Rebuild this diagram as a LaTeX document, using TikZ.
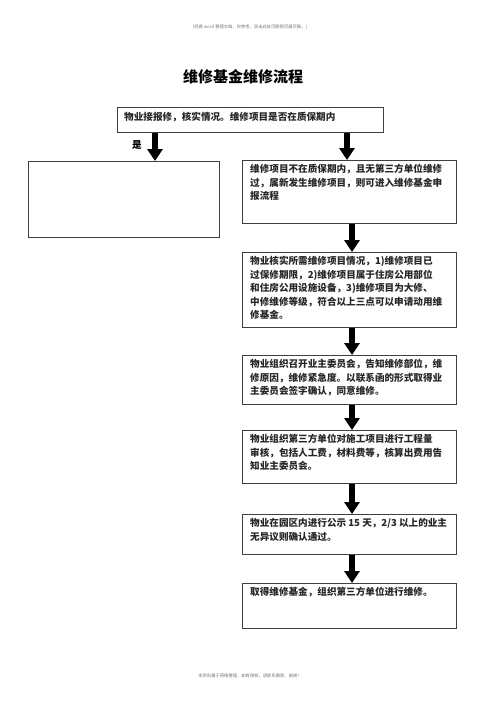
\documentclass[tikz,border=0pt]{standalone}
\usepackage{fontspec}
\setmainfont{Noto Sans CJK SC}
\usetikzlibrary{arrows.meta}
\tikzset{
  box/.style={draw=black!75, line width=0.7pt, rectangle, inner sep=0pt, anchor=north west},
  txt/.style={anchor=north west, inner sep=0pt, align=left, font=\fontsize{9.6}{13.6}\selectfont\bfseries, text=black!85},
  blk/.style={line width=6.5pt, -{Triangle[width=15pt,length=12pt]}, black},
  tiny/.style={font=\fontsize{4.3}{5}\selectfont, text=black!55, inner sep=0pt}
}
\begin{document}
\begin{tikzpicture}[x=1pt,y=-1pt]
\useasboundingbox (0,0) rectangle (500,707);
\node[tiny] (hdr) at (250,27) {[经典 word 整理文档，仅参考，双击此处可删除页眉页脚。]};
\node[font=\fontsize{15}{17}\selectfont\bfseries, inner sep=0pt] (title) at (243,77) {维修基金维修流程};
% top box
\node[box, minimum width=266pt, minimum height=25pt] (top) at (117,107) {};
\node[txt] (toptxt) at (124,112) {物业接报修，核实情况。维修项目是否在质保期内};
\node[font=\fontsize{9.6}{11}\selectfont\bfseries, inner sep=0pt] (yes) at (137,145) {是};
% left box
\node[box, minimum width=191pt, minimum height=76pt] (left) at (28,161) {};
% right column
\node[box, minimum width=214pt, minimum height=63pt] (b1) at (242,160) {};
\node[txt] (t1) at (250,164) {维修项目不在质保期内，且无第三方单位维修\\过，属新发生维修项目，则可进入维修基金申\\报流程};
\node[box, minimum width=214pt, minimum height=75pt] (b2) at (242,252) {};
\node[txt] (t2) at (250,256) {物业核实所需维修项目情况，1)维修项目已\\过保修期限，2)维修项目属于住房公用部位\\和住房公用设施设备，3)维修项目为大修、\\中修维修等级，符合以上三点可以申请动用维\\修基金。};
\node[box, minimum width=214pt, minimum height=49pt] (b3) at (242,355) {};
\node[txt] (t3) at (250,359) {物业组织召开业主委员会，告知维修部位，维\\修原因，维修紧急度。以联系函的形式取得业\\主委员会签字确认，同意维修。};
\node[box, minimum width=214pt, minimum height=53pt] (b4) at (242,430) {};
\node[txt] (t4) at (250,434) {物业组织第三方单位对施工项目进行工程量\\审核，包括人工费，材料费等，核算出费用告\\知业主委员会。};
\node[box, minimum width=214pt, minimum height=40pt] (b5) at (242,514) {};
\node[txt] (t5) at (250,518) {物业在园区内进行公示 15 天，2/3 以上的业主\\无异议则确认通过。};
\node[box, minimum width=214pt, minimum height=45pt] (b6) at (242,583) {};
\node[txt] (t6) at (250,587) {取得维修基金，组织第三方单位进行维修。};
% arrow columns
\coordinate (la) at (155,0);
\coordinate (ra) at (347,0);
\coordinate (ca) at (352,0);
\draw[blk] (top.south -| la) -- (left.north -| la);
\draw[blk] (top.south -| ra) -- (b1.north -| ra);
\draw[blk] (b1.south -| ca) -- (b2.north -| ca);
\draw[blk] (b2.south -| ca) -- (b3.north -| ca);
\draw[blk] (b3.south -| ca) -- (b4.north -| ca);
\draw[blk] (b4.south -| ca) -- (b5.north -| ca);
\draw[blk] (b5.south -| ca) -- (b6.north -| ca);
\node[tiny] (ftr) at (250,676) {本资料属于网络整理，如有侵权，请联系删除，谢谢！};
\end{tikzpicture}
\end{document}
